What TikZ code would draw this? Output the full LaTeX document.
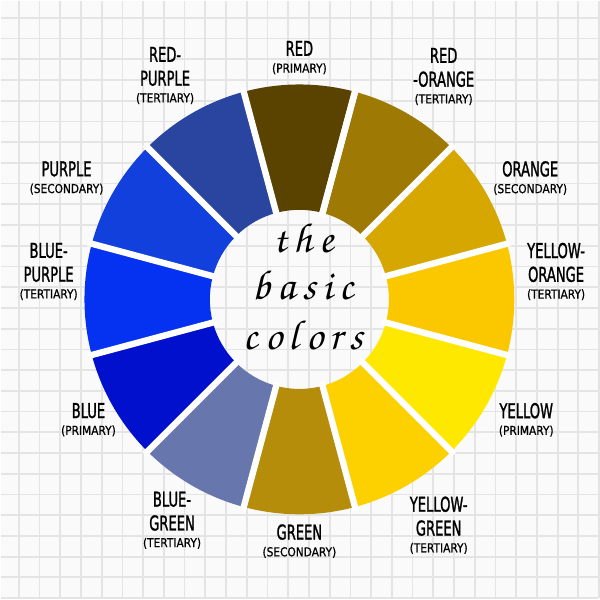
\documentclass[tikz,border=0pt]{standalone}
\usepackage[T1]{fontenc}
\usepackage{fontspec}
\newfontfamily\bigf{DejaVu Sans}[FakeStretch=0.64, FakeBold=1.2]
\newfontfamily\smallf{DejaVu Sans}[FakeStretch=0.86, FakeBold=0.8]
\newcommand{\kind}[1]{{\smallf\fontsize{8.8}{12}\selectfont(#1)}}
\newcommand{\lsp}{\hspace{5pt}}
\newcommand{\scriptf}{\fontencoding{T1}\fontfamily{pzc}\fontseries{mb}\fontshape{it}\selectfont}
\definecolor{paper}{HTML}{FAFAFA}
\definecolor{gridc}{HTML}{E4E4E4}
\definecolor{redc}{HTML}{5A4300}
\definecolor{redorangec}{HTML}{9E7A04}
\definecolor{orangec}{HTML}{D6A700}
\definecolor{yelloworangec}{HTML}{FBC800}
\definecolor{yellowc}{HTML}{FFE800}
\definecolor{yellowgreenc}{HTML}{FDD000}
\definecolor{greenc}{HTML}{B58D0A}
\definecolor{bluegreenc}{HTML}{6776AD}
\definecolor{bluec}{HTML}{0010CC}
\definecolor{bluepurplec}{HTML}{0532F0}
\definecolor{purplec}{HTML}{1140DC}
\definecolor{redpurplec}{HTML}{2A45A0}

\begin{document}
\begin{tikzpicture}[x=0.025cm, y=0.025cm,
  colname/.style={align=center, inner sep=0pt, font=\bigf\fontsize{14.6}{17}\selectfont},
  title/.style={inner sep=0pt, font=\scriptf\fontsize{30}{30}\selectfont}]
  % paper with grid
  \fill[paper] (-300,-300) rectangle (300,300);
  \foreach \i in {0,...,28} {
    \draw[gridc, line width=0.045cm] (-282+\i*20.83,-300) -- (-282+\i*20.83,300);
    \draw[gridc, line width=0.045cm] (-300,283-\i*20.83) -- (300,283-\i*20.83);
  }

  % segments of the wheel
  \foreach \ang/\col in {90/redc, 60/redorangec, 30/orangec, 0/yelloworangec,
      -30/yellowc, -60/yellowgreenc, -90/greenc, -120/bluegreenc,
      -150/bluec, -180/bluepurplec, -210/purplec, -240/redpurplec} {
    \fill[\col] ({\ang-15}:90) arc[start angle=\ang-15, end angle=\ang+15, radius=90]
      -- ({\ang+15}:216) arc[start angle=\ang+15, end angle=\ang-15, radius=216] -- cycle;
  }
  % white gaps
  \foreach \ang in {75,105,...,435} {
    \draw[white, line width=0.16cm] (\ang:86) -- (\ang:220);
  }

  % names
  \node[colname] (redpurple) at (-135,225) {RED-\\PURPLE\\[-5pt]\kind{TERTIARY}};
  \node[colname] (red) at (0,243) {RED\\[-5pt]\kind{PRIMARY}};
  \node[colname] (redorange) at (145,224) {RED\\-ORANGE\\[-5pt]\kind{TERTIARY}};
  \node[colname] (orange) at (232,122) {ORANGE\\[-5pt]\kind{SECONDARY}};
  \node[colname] (yelloworange) at (258,28) {YELLOW-\\ORANGE\\[-5pt]\kind{TERTIARY}};
  \node[colname] (yellow) at (228,-121) {YELLOW\\[-5pt]\kind{PRIMARY}};
  \node[colname] (yellowgreen) at (140,-227) {YELLOW-\\GREEN\\[-5pt]\kind{TERTIARY}};
  \node[colname] (green) at (0,-243) {GREEN\\[-5pt]\kind{SECONDARY}};
  \node[colname] (bluegreen) at (-128,-222) {BLUE-\\GREEN\\[-5pt]\kind{TERTIARY}};
  \node[colname] (blue) at (-212,-121) {BLUE\\[-5pt]\kind{PRIMARY}};
  \node[colname] (bluepurple) at (-252,28) {BLUE-\\PURPLE\\[-5pt]\kind{TERTIARY}};
  \node[colname] (purple) at (-234,122) {PURPLE\\[-5pt]\kind{SECONDARY}};

  % title in the middle
  \node[title, anchor=base] (the) at (4,47) {t\lsp h\lsp e};
  \node[title, anchor=base] (basic) at (4,0) {b\lsp a\lsp s\lsp i\lsp c};
  \node[title, anchor=base] (colors) at (4,-50) {c\lsp o\lsp l\lsp o\lsp r\lsp s};
\end{tikzpicture}
\end{document}
